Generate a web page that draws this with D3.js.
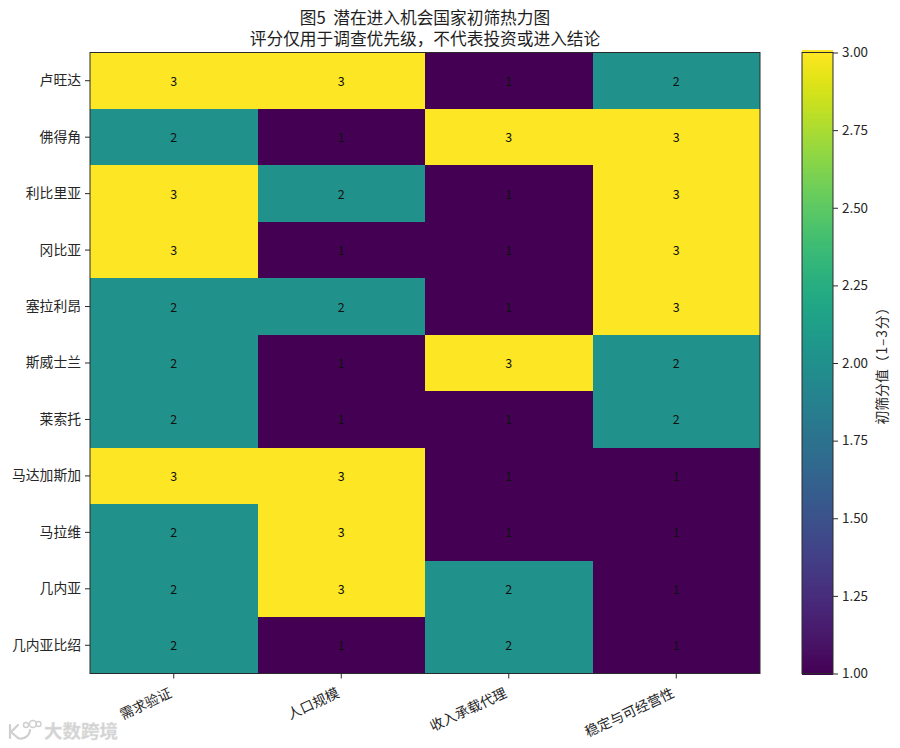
<!DOCTYPE html>
<html><head><meta charset="utf-8">
<script src="https://cdn.jsdelivr.net/npm/d3@7"></script>
<style>html,body{margin:0;padding:0;background:#fff}svg{display:block}text{font-family:"Noto Sans CJK SC","Noto Sans",sans-serif;fill:#262626;text-spacing-trim:space-all}</style>
</head><body><svg id="c" width="900" height="748"></svg>
<script>
const countries=["卢旺达","佛得角","利比里亚","冈比亚","塞拉利昂","斯威士兰","莱索托","马达加斯加","马拉维","几内亚","几内亚比绍"];
const criteria=["需求验证","人口规模","收入承载代理","稳定与可经营性"];
const demand=[3,2,3,3,2,2,2,3,2,2,2];
const population=[3,1,2,1,2,1,1,3,3,3,1];
const income=[1,3,1,1,1,3,1,1,1,2,2];
const stability=[2,3,3,3,3,2,2,1,1,1,1];
const colorbarTicks=[1,1.25,1.5,1.75,2,2.25,2.5,2.75,3];
const titleLines=["图5  潜在进入机会国家初筛热力图","评分仅用于调查优先级，不代表投资或进入结论"];
const colorbarLabelMain="初筛分值";
const colorbarLabelRange="（1–3分）";
const watermark="大数跨境";
const series=[demand,population,income,stability];

const svg=d3.select("#c");
const W={l:90,r:760,t:52.5,b:673.5};
const x=d3.scaleBand().domain(criteria).range([W.l,W.r]);
const y=d3.scaleBand().domain(countries).range([W.t,W.b]);
const color=d3.scaleSequential(d3.interpolateViridis).domain([1,3]);
const ink="#2a2a2a";
const labelSize=13.8;

const cells=criteria.flatMap((c,i)=>countries.map((n,j)=>({c,n,v:series[i][j]})));
svg.append("g").attr("shape-rendering","crispEdges").selectAll("rect").data(cells).join("rect")
 .attr("x",d=>x(d.c)).attr("y",d=>y(d.n)).attr("width",x.bandwidth()).attr("height",y.bandwidth())
 .attr("fill",d=>color(d.v));
svg.append("g").selectAll("text").data(cells).join("text")
 .attr("x",d=>x(d.c)+x.bandwidth()/2).attr("y",d=>y(d.n)+y.bandwidth()/2-.5)
 .attr("text-anchor","middle").attr("dominant-baseline","central")
 .attr("font-size",12.5).style("fill","#111").text(d=>d.v);
svg.append("rect").attr("x",W.l).attr("y",W.t).attr("width",W.r-W.l).attr("height",W.b-W.t)
 .attr("fill","none").attr("stroke",ink).attr("stroke-width",1);

const ax=svg.append("g").attr("transform",`translate(0,${W.b})`).call(d3.axisBottom(x).tickSize(5).tickPadding(4));
ax.select(".domain").remove();
ax.selectAll(".tick line").attr("stroke",ink);
ax.selectAll(".tick text").attr("font-size",labelSize).attr("font-family",null).style("fill","#262626")
 .attr("text-anchor","end").attr("dy",null).attr("y",0).attr("x",0)
 .attr("transform","translate(-1,23) rotate(-25)");

const ay=svg.append("g").attr("transform",`translate(${W.l},0)`).call(d3.axisLeft(y).tickSize(5).tickPadding(4));
ay.select(".domain").remove();
ay.selectAll(".tick line").attr("stroke",ink);
ay.selectAll(".tick text").attr("font-size",labelSize).attr("font-family",null).style("fill","#262626");

// colour bar
const B={l:802,r:833};
const cy=d3.scaleLinear().domain([1,3]).range([W.b,W.t]);
const steps=d3.range(0,256).map(i=>1+2*i/255);
svg.append("g").attr("shape-rendering","crispEdges").selectAll("rect").data(steps).join("rect")
 .attr("x",B.l).attr("width",B.r-B.l)
 .attr("y",d=>cy(d)-(W.b-W.t)/255).attr("height",(W.b-W.t)/255+1)
 .attr("fill",d=>color(d));
svg.append("rect").attr("x",B.l).attr("y",W.t).attr("width",B.r-B.l).attr("height",W.b-W.t)
 .attr("fill","none").attr("stroke",ink);
const ac=svg.append("g").attr("transform",`translate(${B.r},0)`)
 .call(d3.axisRight(cy).tickValues(colorbarTicks).tickFormat(d3.format(".2f")).tickSize(5).tickPadding(4));
ac.select(".domain").remove();
ac.selectAll(".tick line").attr("stroke",ink);
ac.selectAll(".tick text").attr("font-size",13.4).attr("font-family",null).style("fill","#262626");
const cbl=svg.append("text").attr("transform","translate(881,424.5) rotate(-90)").attr("text-anchor","start")
 .attr("dominant-baseline","central").attr("font-size",labelSize);
cbl.append("tspan").text(colorbarLabelMain);
cbl.append("tspan").style("letter-spacing","0.9px").text(colorbarLabelRange);

// title
svg.append("g").selectAll("text").data(titleLines).join("text")
 .attr("x",425).attr("y",(d,i)=>23.5+i*21).attr("text-anchor","middle").style("white-space","pre")
 .attr("font-size",16.7).style("fill","#1e1e1e").text(d=>d);

// watermark
const wm=svg.append("g").attr("fill","none").attr("stroke","#cfcfcf").attr("stroke-width",2.2).attr("stroke-linecap","round");
wm.append("path").attr("d","M10 725V738M18 725L11 732L18 738");
wm.append("path").attr("d","M18 738A9 9 0 0 0 30 730");
wm.append("circle").attr("cx",26).attr("cy",725).attr("r",2.5).attr("stroke-width",1.4);
wm.append("circle").attr("cx",33).attr("cy",724).attr("r",3.5).attr("stroke-width",1.4);
wm.append("circle").attr("cx",38.5).attr("cy",724).attr("r",2.5).attr("stroke-width",1.4);
svg.append("text").attr("x",44).attr("y",738).attr("font-size",18.5).attr("font-weight",700)
 .style("fill","#d2d2d2").style("stroke","#e4e4e4").style("stroke-width",.4).text(watermark);
</script></body></html>
